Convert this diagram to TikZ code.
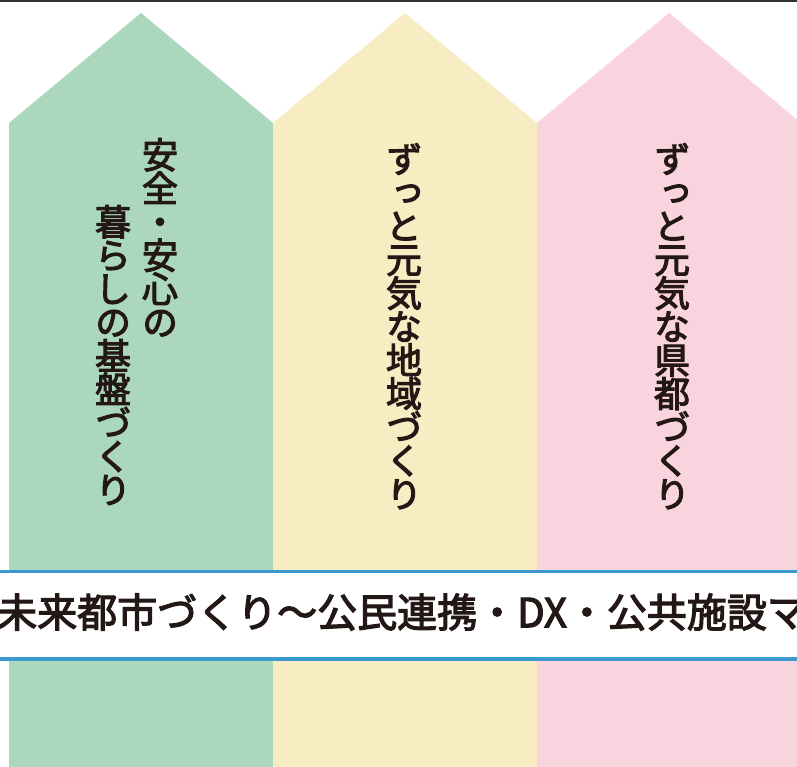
\documentclass[tikz,border=0pt]{standalone}
\usepackage{fontspec}
\setmainfont[FakeBold=3]{Noto Sans CJK JP}
\newfontfamily\tatefont[RawFeature=+vert,FakeBold=3]{Noto Sans CJK JP}
\definecolor{hgreen}{RGB}{171,216,188}
\definecolor{hyellow}{RGB}{248,236,194}
\definecolor{hpink}{RGB}{249,212,223}
\definecolor{bandblue}{RGB}{58,154,208}
\definecolor{sumi}{RGB}{35,24,21}
\lineskiplimit=-50pt
\begin{document}
\lineskiplimit=-50pt
\begin{tikzpicture}[x=1pt,y=-1pt,
  tate/.style={anchor=north, inner sep=0, align=center, text=sumi,
    font=\tatefont\fontsize{36}{33.5}\selectfont},
  bandtext/.style={anchor=west, inner sep=0, text=sumi, font=\fontsize{40}{40}\selectfont}]
\useasboundingbox (0,0) rectangle (797,767);
\clip (0,0) rectangle (797,767);
\draw[line width=1.8, black!80] (0,0.9) -- (797,0.9);
\foreach \x/\c in {9/hgreen,273/hyellow,537/hpink}
  \fill[\c] (\x,767) -- (\x,123) -- (\x+132,13) -- (\x+264,123) -- (\x+264,767) -- cycle;
\node[tate] (anzen) at (160,138) {安\\全\\・\\安\\心\\の};
\node[tate] (kurashi) at (113,205) {暮\\ら\\し\\の\\基\\盤\\づ\\く\\り};
\node[tate] (chiiki) at (404,143) {ず\\っ\\と\\元\\気\\な\\地\\域\\づ\\く\\り};
\node[tate] (kento) at (672,143) {ず\\っ\\と\\元\\気\\な\\県\\都\\づ\\く\\り};
\fill[white] (0,571.5) rectangle (797,659);
\draw[line width=3.5, bandblue] (0,571.5) -- (797,571.5);
\draw[line width=3.5, bandblue] (0,659) -- (797,659);
\node[bandtext] (mirai) at (-3,612) {未来都市づくり～公民連携・DX・公共施設マ};
\end{tikzpicture}
\end{document}
